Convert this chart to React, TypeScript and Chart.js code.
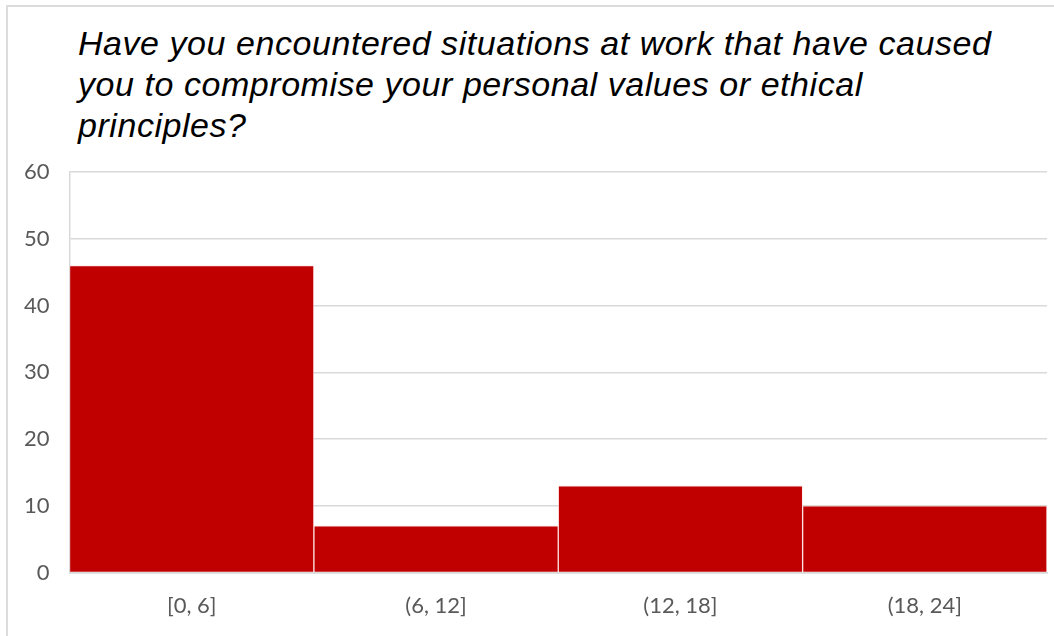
import React, { useEffect, useRef } from "react";
import { Chart, registerables } from "chart.js";

Chart.register(...registerables);

const titleLines = [
  "Have you encountered situations at work that have caused",
  "you to compromise your personal values or ethical",
  "principles?",
];
const categories = ["[0, 6]", "(6, 12]", "(12, 18]", "(18, 24]"];
const counts = [46, 7, 13, 10];
const yTicks = [0, 10, 20, 30, 40, 50, 60];

export default function App() {
  const ref = useRef<HTMLCanvasElement | null>(null);

  useEffect(() => {
    if (!ref.current) return;
    const chart = new Chart(ref.current, {
      type: "bar",
      data: {
        labels: categories,
        datasets: [
          {
            data: counts,
            backgroundColor: "#C00000",
            borderColor: "rgba(255,210,210,0.55)",
            borderWidth: 1,
            categoryPercentage: 1,
            barPercentage: 1,
          },
        ],
      },
      options: {
        animation: false,
        responsive: false,
        devicePixelRatio: 1,
        layout: { padding: { top: 172, right: 7, bottom: -3, left: 4 } },
        plugins: {
          legend: { display: false },
          title: { display: false },
          tooltip: { enabled: false },
        },
        scales: {
          x: {
            grid: { display: false, drawTicks: false },
            border: { display: true, color: "#d9d9d9", width: 1.5 },
            ticks: {
              color: "#595959",
              font: { family: "Lato, 'Noto Sans', sans-serif", size: 22 },
              padding: 20,
            },
          },
          y: {
            min: 0,
            max: 60,
            afterBuildTicks: (axis: any) => {
              axis.ticks = yTicks.map((v) => ({ value: v }));
            },
            grid: { color: "#d9d9d9", lineWidth: 1.5, drawTicks: false },
            border: { display: true, color: "#d9d9d9", width: 1.5 },
            ticks: {
              color: "#595959",
              font: { family: "Lato, 'Noto Sans', sans-serif", size: 22 },
              padding: 20,
            },
          },
        },
      },
    });
    return () => chart.destroy();
  }, []);

  return (
    <div
      style={{
        position: "absolute",
        left: 0,
        top: 0,
        width: 1054,
        height: 636,
        background: "#fff",
        overflow: "hidden",
      }}
    >
      <div
        style={{
          position: "absolute",
          left: 6,
          top: 5,
          right: 0,
          bottom: 0,
          borderTop: "2px solid #dcdcdc",
          borderLeft: "2px solid #dcdcdc",
        }}
      />
      <div
        style={{
          position: "absolute",
          left: 78,
          top: 23,
          fontFamily: "'Liberation Sans', Arial, sans-serif",
          fontStyle: "italic",
          fontSize: 34,
          letterSpacing: "0.55px",
          lineHeight: "41px",
          color: "#000",
          whiteSpace: "nowrap",
        }}
      >
        {titleLines.map((l, i) => (
          <div key={i}>{l}</div>
        ))}
      </div>
      <canvas
        ref={ref}
        width={1054}
        height={636}
        style={{ position: "absolute", left: 0, top: 0, width: 1054, height: 636 }}
      />
    </div>
  );
}
